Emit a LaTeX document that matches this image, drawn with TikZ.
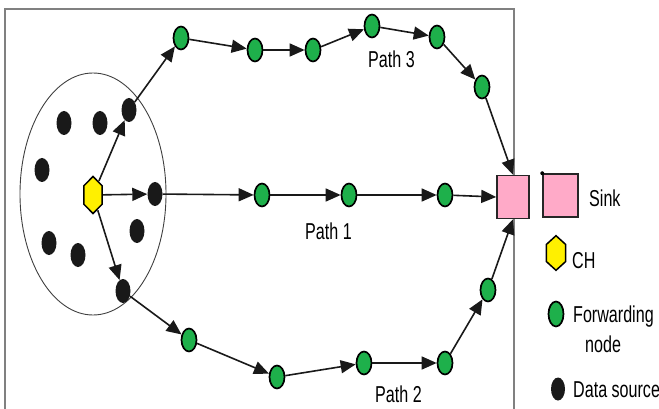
\documentclass[tikz,border=0pt]{standalone}
\usepackage{fontspec}
\newfontfamily\labfont{Liberation Sans}[FakeStretch=0.7]
\usetikzlibrary{shapes.geometric,arrows.meta}
\definecolor{fwdgreen}{RGB}{30,176,75}
\definecolor{sinkpink}{RGB}{255,170,200}
\definecolor{chyellow}{RGB}{255,240,0}
\definecolor{framegray}{RGB}{128,128,128}
\begin{document}
\begin{tikzpicture}[x=1pt,y=-1pt,
  fwd/.style={ellipse,draw=black,line width=1.7pt,fill=fwdgreen,minimum width=15pt,minimum height=23pt,inner sep=0pt},
  src/.style={ellipse,fill=black!90,minimum width=15pt,minimum height=24pt,inner sep=0pt},
  sinkbox/.style={rectangle,draw=black!85,line width=1.5pt,fill=sinkpink,minimum width=32pt,minimum height=43pt,inner sep=0pt},
  hexnode/.style={regular polygon,regular polygon sides=6,shape border rotate=30,draw=black,line width=1.5pt,fill=chyellow,minimum size=20pt,inner sep=0pt,transform shape},
  link/.style={line width=1.6pt,draw=black!90,-{Triangle[length=15pt,width=13pt]}},
  lab/.style={font=\labfont\fontsize{23}{26}\selectfont,inner sep=0pt,anchor=base west},
]
\useasboundingbox (0,0) rectangle (659,409);
% frame
\draw[framegray,line width=1.2pt] (5,409) -- (5,9) -- (514,9) -- (514,409);
% cluster
\draw[black!75,line width=0.9pt] (93,194) ellipse [x radius=73, y radius=121];

% cluster head
\begin{scope}[shift={(93,195)},xscale=1.05,yscale=1.85]
  \node[hexnode] (ch) at (0,0) {};
\end{scope}

% data sources
\node[src] (s1) at (64,123) {};
\node[src] (s2) at (100,123) {};
\node[src] (s3) at (129,110) {};
\node[src] (s4) at (42,170) {};
\node[src] (s5) at (155,194) {};
\node[src] (s6) at (49,243) {};
\node[src] (s7) at (78,255) {};
\node[src] (s8) at (137,231) {};
\node[src] (s9) at (123,291) {};

% sink
\node[sinkbox] (sink) at (513,197) {};

% path 3
\node[fwd] (a1) at (181,38) {};
\node[fwd] (a2) at (255,50) {};
\node[fwd] (a3) at (313,50) {};
\node[fwd] (a4) at (372,26) {};
\node[fwd] (a5) at (437,37) {};
\node[fwd] (a6) at (482,87) {};
% path 1
\node[fwd] (b1) at (262,195) {};
\node[fwd] (b2) at (349,195) {};
\node[fwd] (b3) at (445,195) {};
% path 2
\node[fwd] (c1) at (189,340) {};
\node[fwd] (c2) at (277,377) {};
\node[fwd] (c3) at (364,363) {};
\node[fwd] (c4) at (445,363) {};
\node[fwd] (c5) at (488,290) {};

% connectors
\draw[link] (ch) -- (s3);
\draw[link] (s3) -- (a1);
\draw[link] (a1) -- (a2);
\draw[link] (a2) -- (a3);
\draw[link] (a3) -- (a4);
\draw[link] (a4) -- (a5);
\draw[link] (a5) -- (a6);
\draw[link] (a6) -- (sink.north);

\draw[link] (ch) -- (s5);
\draw[link] (s5) -- (b1);
\draw[link] (b1) -- (b2);
\draw[link] (b2) -- (b3);
\draw[link] (b3) -- (sink.west);

\draw[link] (ch) -- (s9);
\draw[link] (s9) -- (c1);
\draw[link] (c1) -- (c2);
\draw[link] (c2) -- (c3);
\draw[link] (c3) -- (c4);
\draw[link] (c4) -- (c5);
\draw[link] (c5) -- (sink.south);

% path labels
\node[lab] (p3) at (368,68) {Path 3};
\node[lab] (p1) at (305,239) {Path 1};
\node[lab] (p2) at (375,402) {Path 2};

% legend
\node[sinkbox,minimum width=35pt,minimum height=43pt] (lsink) at (560.5,195.5) {};
\fill[black] (lsink.north west) circle (2);
\node[lab] (tsink) at (589,207) {Sink};
\begin{scope}[shift={(556,253)},xscale=1.1,yscale=1.73]
  \node[hexnode] (lch) at (0,0) {};
\end{scope}
\node[lab] (tch) at (572,268) {CH};
\node[fwd,minimum height=25pt] (lfwd) at (556,314) {};
\node[lab] (tfwd1) at (573,322) {Forwarding};
\node[lab] (tfwd2) at (585,352) {node};
\node[src,minimum width=14pt,minimum height=23pt] (lsrc) at (558,389) {};
\node[lab] (tsrc) at (573,397) {Data source};
\end{tikzpicture}
\end{document}
